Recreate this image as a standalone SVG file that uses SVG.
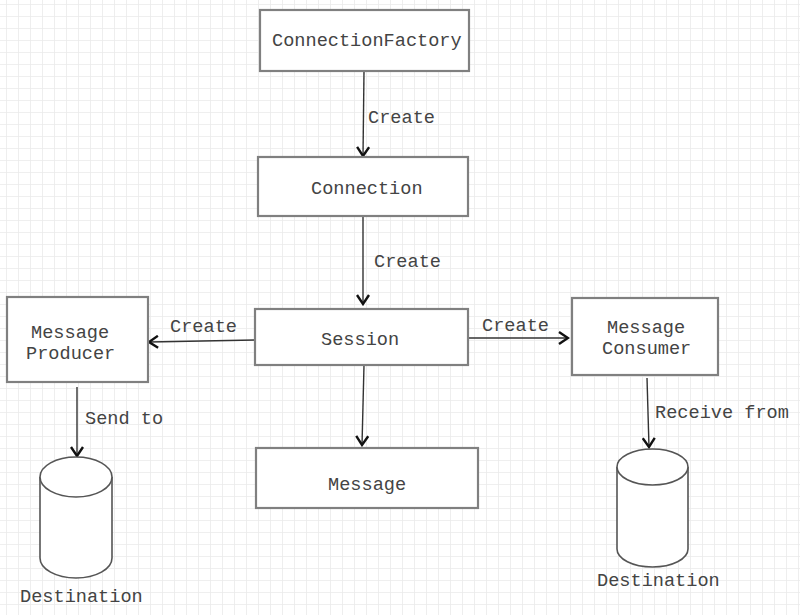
<svg xmlns="http://www.w3.org/2000/svg" width="800" height="615" viewBox="0 0 800 615">
<defs>
<pattern id="grid" x="6" y="4" width="12" height="12" patternUnits="userSpaceOnUse">
<path d="M0,0 H12 M0,0 V12" fill="none" stroke="#eaeaea" stroke-width="1.6"/>
</pattern>
<marker id="arr" viewBox="0 0 12 14" refX="10" refY="7" markerWidth="12" markerHeight="14" markerUnits="userSpaceOnUse" orient="auto">
<path d="M1,1 L10,7 L1,13" fill="none" stroke="#111" stroke-width="2.4" stroke-linejoin="miter"/>
</marker>
</defs>
<style>
.box{fill:#fff;stroke:#808080;stroke-width:2.2}
.cyl{fill:#fff;stroke:#555;stroke-width:1.6}
.t{font-family:"Liberation Mono","DejaVu Sans Mono",monospace;font-size:18.6px;fill:#444}
.e{fill:none;stroke:#333;stroke-width:1.4;marker-end:url(#arr)}
</style>
<rect width="800" height="615" fill="#fff"/>
<rect width="800" height="615" fill="url(#grid)"/>

<g id="connectors">
<path class="e" d="M364,71 L363,156"/>
<path class="e" d="M363,216 L363,304"/>
<path class="e" d="M255,340 L149,342"/>
<path class="e" d="M468,338 L568,338"/>
<path class="e" d="M364,365 L362,445"/>
<path class="e" d="M77,387 L77,456"/>
<path class="e" d="M647,378 L649,447"/>
<text class="t" x="368" y="123">Create</text>
<text class="t" x="374" y="267">Create</text>
<text class="t" x="170" y="332">Create</text>
<text class="t" x="482" y="331">Create</text>
<text class="t" x="85" y="424">Send to</text>
<text class="t" x="655" y="418">Receive from</text>
</g>

<g id="connectionfactory">
<rect class="box" x="260" y="10" width="209" height="61"/>
<text class="t" x="272" y="46">ConnectionFactory</text>
</g>
<g id="connection">
<rect class="box" x="258" y="157" width="210" height="59"/>
<text class="t" x="311" y="194">Connection</text>
</g>
<g id="session">
<rect class="box" x="255" y="309" width="213" height="56"/>
<text class="t" x="321" y="345">Session</text>
</g>
<g id="message">
<rect class="box" x="256" y="448" width="222" height="60"/>
<text class="t" x="328" y="490">Message</text>
</g>
<g id="producer">
<rect class="box" x="7" y="297" width="141" height="85"/>
<text class="t" x="31" y="338">Message</text>
<text class="t" x="26" y="359">Producer</text>
</g>
<g id="consumer">
<rect class="box" x="572" y="298" width="146" height="77"/>
<text class="t" x="607" y="333">Message</text>
<text class="t" x="602" y="354">Consumer</text>
</g>
<g id="destination1">
<path class="cyl" d="M40,477 A36,20 0 0 1 112,477 L112,558 A36,20 0 0 1 40,558 Z"/>
<path class="cyl" d="M40,477 A36,20 0 0 0 112,477" fill="none"/>
<text class="t" x="20" y="602">Destination</text>
</g>
<g id="destination2">
<path class="cyl" d="M617,467 A35.5,18 0 0 1 688,467 L688,549 A35.5,18 0 0 1 617,549 Z"/>
<path class="cyl" d="M617,467 A35.5,18 0 0 0 688,467" fill="none"/>
<text class="t" x="597" y="586">Destination</text>
</g>
</svg>
